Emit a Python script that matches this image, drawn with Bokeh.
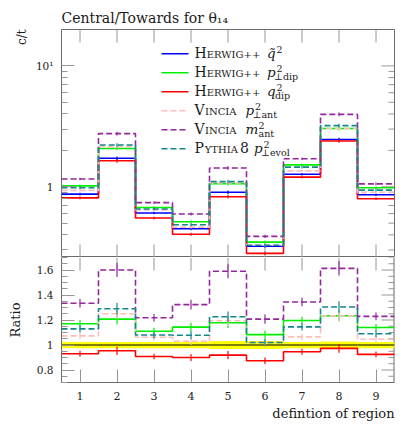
import math
from bokeh.plotting import figure
from bokeh.models import Range1d, FixedTicker, LinearAxis, LogAxis, Label, Title
from bokeh.layouts import column
from bokeh.embed import file_html
from bokeh.resources import INLINE

# ---------------- data ----------------
regions = [1, 2, 3, 4, 5, 6, 7, 8, 9]
x_tick_labels = ["1", "2", "3", "4", "5", "6", "7", "8", "9"]
# reference MC: Herwig++ q~^2 (c/t)
ref_vals = [0.87, 1.72, 0.607, 0.45, 0.90, 0.322, 1.27, 2.46, 0.86]
# ratios to the reference
ratio_hw_qt = [1.0, 1.0, 1.0, 1.0, 1.0, 1.0, 1.0, 1.0, 1.0]
ratio_hw_ptdip = [1.17, 1.207, 1.11, 1.143, 1.178, 1.083, 1.196, 1.234, 1.14]
ratio_hw_qdip = [0.93, 0.954, 0.908, 0.90, 0.919, 0.874, 0.946, 0.973, 0.925]
ratio_vin_pt = [1.073, 1.25, 1.062, 1.03, 1.194, 1.02, 1.065, 1.234, 1.046]
ratio_vin_m = [1.334, 1.60, 1.218, 1.323, 1.59, 1.207, 1.344, 1.613, 1.229]
ratio_py_pt = [1.129, 1.29, 1.08, 1.078, 1.226, 1.02, 1.145, 1.304, 1.09]
band_err = [0.025, 0.025, 0.025, 0.025, 0.032, 0.032, 0.025, 0.028, 0.025]
rel_err = [0.025, 0.035, 0.025, 0.03, 0.035, 0.03, 0.025, 0.035, 0.025]
main_ticks = [1, 10]
main_tick_labels = ["1", "10\u00b9"]
main_minor = [0.3, 0.4, 0.5, 0.6, 0.7, 0.8, 0.9, 2, 3, 4, 5, 6, 7, 8, 9]
ratio_ticks = [0.8, 1.0, 1.2, 1.4, 1.6]
ratio_tick_labels = ["0.8", "1", "1.2", "1.4", "1.6"]
ratio_minor = [0.7, 0.75, 0.85, 0.9, 0.95, 1.05, 1.1, 1.15, 1.25, 1.3, 1.35,
               1.45, 1.5, 1.55, 1.65, 1.7]

series = [
    # big1, small, big2, math, sup, sub, color, dash, math_x, sup_x, sub_x (page px)
    ("H", "ERWIG++", "", "q\u0303", "2", "", "#0000ff", "solid", 266.5, 276, 0),
    ("H", "ERWIG++", "", "p", "2", "\u22a5dip", "#00ee00", "solid", 266.5, 276, 273.5),
    ("H", "ERWIG++", "", "q", "2", "dip", "#ff0000", "solid", 266.5, 276, 274.5),
    ("V", "INCIA", "", "p", "2", "\u22a5ant", "#ffbcbc", "6 3", 245, 254.5, 252),
    ("V", "INCIA", "", "m", "2", "ant", "#93279b", "6 3", 245, 258, 258),
    ("P", "YTHIA", " 8", "p", "2", "\u22a5evol", "#13888a", "6 3", 253.5, 263, 260.5),
]
ratios = [ratio_hw_qt, ratio_hw_ptdip, ratio_hw_qdip, ratio_vin_pt, ratio_vin_m, ratio_py_pt]

# ---------------- layout ----------------
FW, HM, HR = 333, 228, 125
LEFT, RIGHT, TOP, BOTTOM = 61, 15, 29, 42
YLO, YHI = 0.26, 20.0
RLO, RHI = 0.7, 1.7
XLO, XHI = 0.5, 9.5
FONT = "DejaVu Serif"
TICK = "#969696"
FRAME = "#6a6a6a"
TXT = "#1a1a1a"
MAJ, MIN = 13, 6

edges = [r - 0.5 for r in regions] + [regions[-1] + 0.5]


def stepy(v):
    return list(v) + [v[-1]]


def style_axis(ax, ticks, minor, labels, font_size="10.5px"):
    ax.ticker = FixedTicker(ticks=ticks, minor_ticks=minor or [])
    ax.axis_line_color = None
    ax.major_tick_in = MAJ
    ax.major_tick_out = 0
    ax.minor_tick_in = MIN
    ax.minor_tick_out = 0
    ax.major_tick_line_color = TICK
    ax.minor_tick_line_color = TICK
    ax.major_label_overrides = {t: l for t, l in zip(ticks, labels)}
    ax.major_label_text_font = FONT
    ax.major_label_text_font_size = font_size
    ax.major_label_text_color = TXT
    ax.major_label_standoff = 8


def xpix(n):
    return n / FW * (XHI - XLO)


def log_shift(v, n, h, lo, hi):
    return 10 ** (math.log10(v) + n / h * (math.log10(hi) - math.log10(lo)))


def mk_fig(h, log, yr, top, bottom):
    f = figure(frame_width=FW, frame_height=h,
               y_axis_type="log" if log else "linear",
               x_range=Range1d(XLO, XHI), y_range=Range1d(*yr),
               output_backend="svg", toolbar_location=None,
               x_axis_location=None, y_axis_location=None,
               min_border_left=LEFT, min_border_right=RIGHT,
               min_border_top=top, min_border_bottom=bottom)
    f.grid.visible = False
    f.outline_line_color = FRAME
    f.outline_line_width = 1
    f.background_fill_color = "white"
    f.border_fill_color = "white"
    return f


def side_title(text, align, size, standoff):
    return Title(text=text, align=align, text_font=FONT, text_font_size=size,
                 text_font_style="normal", text_color=TXT, standoff=standoff)


# ---------------- main panel ----------------
p = mk_fig(HM, True, (YLO, YHI), TOP, 0)
p.title = side_title("Central/Towards for \u03b8\u2081\u2084", "left", "14px", 8)
ax = LogAxis()
style_axis(ax, main_ticks, main_minor, main_tick_labels)
p.add_layout(ax, "left")
p.add_layout(side_title("c/t", "right", "12px", 8), "left")

# ticks on top / bottom / right edges of the frame
p.segment(x0=regions, x1=regions, y0=[YHI] * 9,
          y1=[log_shift(YHI, -MAJ, HM, YLO, YHI)] * 9, line_color=TICK, line_width=1)
p.segment(x0=regions, x1=regions, y0=[YLO] * 9,
          y1=[log_shift(YLO, MAJ, HM, YLO, YHI)] * 9, line_color=TICK, line_width=1)
p.segment(x0=[XHI] * len(main_ticks), x1=[XHI - xpix(MAJ)] * len(main_ticks),
          y0=main_ticks, y1=main_ticks, line_color=TICK, line_width=1)
p.segment(x0=[XHI] * len(main_minor), x1=[XHI - xpix(MIN)] * len(main_minor),
          y0=main_minor, y1=main_minor, line_color=TICK, line_width=1)

for s, rat in zip(series, ratios):
    color, dash = s[6], s[7]
    vals = [rv * r for rv, r in zip(ref_vals, rat)]
    p.step(x=edges, y=stepy(vals), mode="after", line_color=color,
           line_width=1.6, line_dash=dash)
    p.segment(x0=regions, x1=regions,
              y0=[v * (1 - e) for v, e in zip(vals, rel_err)],
              y1=[v * (1 + e) for v, e in zip(vals, rel_err)],
              line_color=color, line_width=1.2)


# page pixel -> main-panel data (only for legend decoration)
def dx(px):
    return XLO + (px - LEFT) / FW * (XHI - XLO)


def dy(py):
    lo, hi = math.log10(YLO), math.log10(YHI)
    return 10 ** (lo + (TOP + HM - py) / HM * (hi - lo))


ROW0 = 53.3
DY = 19.0
for i, s in enumerate(series):
    yy = dy(ROW0 + i * DY)
    p.segment(x0=[dx(161)], x1=[dx(188)], y0=[yy], y1=[yy],
              line_color=s[6], line_width=1.6, line_dash=s[7])


def lab(fig, fb, px, py, text, size, style="normal", align="left"):
    # py is the text baseline on the page; convert to the box middle
    s = float(size.replace("px", ""))
    mid = py - 0.36 * s
    fig.add_layout(Label(x=px - LEFT, y=fb - mid, x_units="screen", y_units="screen",
                         text=text, text_font=FONT, text_font_size=size,
                         text_font_style=style, text_color=TXT, text_align=align,
                         text_baseline="middle"))


for i, s in enumerate(series):
    big1, small, big2, mth, sup, sub, color, dash, mx, sx, bx = s
    base = ROW0 + i * DY + 4.5
    x0 = 194
    lab(p, TOP + HM, x0, base, big1, "14px")
    wbig = {"H": 12.2, "V": 10.5, "P": 10.2}[big1]
    lab(p, TOP + HM, x0 + wbig, base, small, "10px")
    if big2:
        lab(p, TOP + HM, 239.5, base, big2, "14px")
    lab(p, TOP + HM, mx, base, mth, "13.5px", style="italic")
    lab(p, TOP + HM, sx, base - 5.0, sup, "9.5px")
    if sub:
        lab(p, TOP + HM, bx, base + 2.8, sub, "9.5px")

# ---------------- ratio panel ----------------
q = mk_fig(HR, False, (RLO, RHI), 0, BOTTOM)
q.outline_line_alpha = 0
ax = LinearAxis()
style_axis(ax, ratio_ticks, ratio_minor, ratio_tick_labels)
ax.axis_line_color = FRAME
ax.axis_label = "Ratio"
ax.axis_label_text_font = FONT
ax.axis_label_text_font_size = "13px"
ax.axis_label_text_font_style = "normal"
ax.axis_label_text_color = TXT
ax.axis_label_standoff = 11
q.add_layout(ax, "left")
ax = LinearAxis()
style_axis(ax, regions, None, x_tick_labels, font_size="11px")
ax.axis_line_color = FRAME
ax.major_label_standoff = 9
q.add_layout(ax, "below")
q.add_layout(side_title("defintion of region", "right", "13px", 2), "below")

rpix = (RHI - RLO) / HR
q.segment(x0=[XHI], x1=[XHI], y0=[RLO], y1=[RHI], line_color=FRAME, line_width=2)
q.segment(x0=regions, x1=regions, y0=[RHI] * 9, y1=[RHI - MAJ * rpix] * 9,
          line_color=TICK, line_width=1)
q.segment(x0=[XHI] * len(ratio_ticks), x1=[XHI - xpix(MAJ)] * len(ratio_ticks),
          y0=ratio_ticks, y1=ratio_ticks, line_color=TICK, line_width=1)
q.segment(x0=[XHI] * len(ratio_minor), x1=[XHI - xpix(MIN)] * len(ratio_minor),
          y0=ratio_minor, y1=ratio_minor, line_color=TICK, line_width=1)

q.quad(left=edges[:-1], right=edges[1:],
       bottom=[1 - e for e in band_err], top=[1 + e for e in band_err],
       fill_color="#ffff00", line_color=None, fill_alpha=0.95)
q.step(x=edges, y=stepy(ratio_hw_qt), mode="after", line_color="black", line_width=1.2)

for s, rat in zip(series[1:], ratios[1:]):
    color, dash = s[6], s[7]
    q.step(x=edges, y=stepy(rat), mode="after", line_color=color,
           line_width=1.6, line_dash=dash)
    q.segment(x0=regions, x1=regions,
              y0=[r * (1 - e) for r, e in zip(rat, rel_err)],
              y1=[r * (1 + e) for r, e in zip(rat, rel_err)],
              line_color=color, line_width=1.2)

layout = column(p, q, spacing=0)
open("out.html", "w").write(file_html(layout, INLINE))
